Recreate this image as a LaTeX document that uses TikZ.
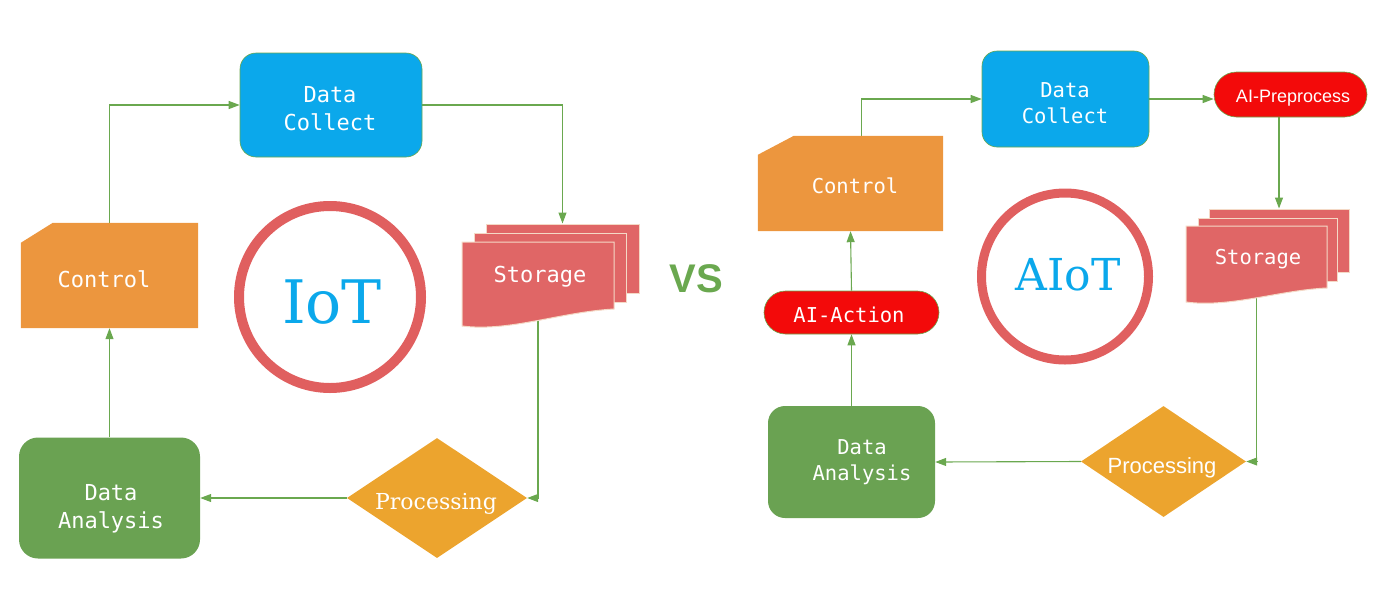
\documentclass[tikz,border=0pt]{standalone}
\usepackage{fontspec}
\setmonofont{DejaVu Sans Mono}
\newfontfamily\slabfont{DejaVu Serif}
\newfontfamily\lsans{Liberation Sans}
\usetikzlibrary{shapes.geometric,shapes.misc,arrows.meta,backgrounds}
\definecolor{cblue}{HTML}{0BA8EB}
\definecolor{cgreen}{HTML}{6AA84F}
\definecolor{cdgreen}{HTML}{6AA252}
\definecolor{corange}{HTML}{ECA42E}
\definecolor{cctl}{HTML}{EC963E}
\definecolor{cstore}{HTML}{E06666}
\definecolor{cring}{HTML}{E05F5F}
\definecolor{cred}{HTML}{F30A0A}
\definecolor{clight}{HTML}{F4D9C6}
\begin{document}
\begin{tikzpicture}[x=1pt,y=-1pt,
  conn/.style={draw=cgreen, line width=1.1pt, -{Triangle[length=11pt,width=8pt]}},
  txt/.style={anchor=base, inner sep=0pt, text=white},
  monoL/.style={txt, font=\ttfamily\fontsize{22}{28}\selectfont},
  monoR/.style={txt, font=\ttfamily\fontsize{20.5}{26}\selectfont},
  collectbox/.style={rectangle, rounded corners=16pt, fill=cblue, draw=cgreen, line width=0.6pt, inner sep=0pt},
  analysisbox/.style={rectangle, rounded corners=19pt, fill=cdgreen, inner sep=0pt},
  procbox/.style={diamond, fill=corange, inner sep=0pt},
  aibox/.style={rounded rectangle, fill=cred, draw=cgreen, line width=0.6pt, inner sep=0pt},
  sheet/.style={rectangle, fill=cstore, draw=clight, line width=1pt, inner sep=0pt},
  ringnode/.style={circle, draw=cring, inner sep=0pt},
  ghost/.style={rectangle, inner sep=0pt}
]
\useasboundingbox (0,0) rectangle (1400,606);

%% ---------------- IoT (left) ----------------
\node[collectbox, minimum width=182pt, minimum height=104pt] (dc1) at (331,105) {};
\node[monoL] (dc1a) at (330,102) {Data};
\node[monoL] (dc1b) at (330,130) {Collect};

\node[ghost, minimum width=177pt, minimum height=105pt] (ctl1) at (109.5,275.5) {};
\fill[cctl] (ctl1.south west) -- (ctl1.south east) -- (ctl1.north east)
  -- ([xshift=32pt]ctl1.north west) -- ([yshift=-20pt]ctl1.north west) -- cycle;
\node[monoL] (ctl1t) at (104,287) {Control};

\node[analysisbox, minimum width=181pt, minimum height=121pt] (da1) at (109.5,498) {};
\node[monoL] (da1a) at (111,500) {Data};
\node[monoL] (da1b) at (111,528) {Analysis};

\node[procbox, minimum width=180pt, minimum height=120pt] (pr1) at (437,498) {};
\node[txt, font=\slabfont\fontsize{22}{26}\selectfont] (pr1t) at (436,509) {Processing};

% storage (three sheets)
\node[sheet, minimum width=153pt, minimum height=69pt] (sb1) at (562.5,258.5) {};
\node[sheet, minimum width=152pt, minimum height=69pt] (sm1) at (550,267.5) {};
\node[ghost, minimum width=152pt, minimum height=79pt] (st1) at (538,281.5) {};
\filldraw[fill=cstore, draw=clight, line width=1pt]
  (462,242) -- (614,242) -- (614,309) .. controls (560,312) and (510,332) .. (462,326) -- cycle;
\node[monoL] (st1t) at (540,282) {Storage};

\node[ringnode, line width=10pt, minimum size=182pt] (ring1) at (330,297) {};
\node[txt, text=cblue, font=\slabfont\fontsize{60}{60}\selectfont] (ring1t) at (332,323) {IoT};

%% ---------------- VS ----------------
\node[txt, text=cgreen, font=\lsans\bfseries\fontsize{40}{40}\selectfont] (vs) at (696,292) {VS};

%% ---------------- AIoT (right) ----------------
\node[collectbox, rounded corners=15pt, minimum width=167pt, minimum height=96pt] (dc2) at (1065.5,99) {};
\node[monoR] (dc2a) at (1065,97) {Data};
\node[monoR] (dc2b) at (1065,123) {Collect};

\node[aibox, minimum width=153pt, minimum height=45pt] (pp2) at (1290.5,94.5) {};
\node[txt, font=\lsans\fontsize{18}{20}\selectfont] (pp2t) at (1293,102) {AI-Preprocess};

\node[ghost, minimum width=185pt, minimum height=95pt] (ctl2) at (850.5,183.5) {};
\fill[cctl] (ctl2.south west) -- (ctl2.south east) -- (ctl2.north east)
  -- ([xshift=36pt]ctl2.north west) -- ([yshift=-19pt]ctl2.north west) -- cycle;
\node[monoR] (ctl2t) at (855,193) {Control};

\node[aibox, minimum width=175pt, minimum height=43pt] (aa2) at (851.5,312.5) {};
\node[monoR] (aa2t) at (849,322) {AI-Action};

\node[analysisbox, rounded corners=17pt, minimum width=167pt, minimum height=112pt] (da2) at (851.5,462) {};
\node[monoR] (da2a) at (862,454) {Data};
\node[monoR] (da2b) at (862,480) {Analysis};

\node[procbox, minimum width=165pt, minimum height=111pt] (pr2) at (1163.5,461.5) {};
\node[txt, font=\lsans\fontsize{22}{26}\selectfont] (pr2t) at (1162,473) {Processing};

\node[sheet, minimum width=140pt, minimum height=63pt] (sb2) at (1279,240.5) {};
\node[sheet, minimum width=139pt, minimum height=63pt] (sm2) at (1267.5,249.5) {};
\node[ghost, minimum width=141pt, minimum height=72pt] (st2) at (1256.5,262) {};
\filldraw[fill=cstore, draw=clight, line width=1pt]
  (1186,226) -- (1327,226) -- (1327,288) .. controls (1280,290) and (1230,308) .. (1186,302) -- cycle;
\node[monoR] (st2t) at (1258,264) {Storage};

\node[ringnode, line width=9pt, minimum size=167pt] (ring2) at (1065,276.5) {};
\node[txt, text=cblue, font=\slabfont\fontsize{44}{44}\selectfont] (ring2t) at (1068,290) {AIoT};

%% ---------------- connectors ----------------
\begin{scope}[on background layer]
  \draw[conn] (ctl1.north) |- (dc1.west);
  \draw[conn] (dc1.east) -| (sb1.north);
  \draw[conn] (st1.south) |- (pr1.east);
  \draw[conn] (pr1.west) -- (da1.east);
  \draw[conn] (da1.north) -- (ctl1.south);

  \draw[conn] ([xshift=11pt]ctl2.north) |- (dc2.west);
  \draw[conn] (dc2.east) -- (dc2.east -| pp2.west);
  \draw[conn] (sb2.north |- pp2.south) -- (sb2.north);
  \draw[conn] (st2.south) |- (pr2.east);
  \draw[conn] (pr2.west) -- (da2.east);
  \draw[conn] (da2.north) -- (aa2.south);
  \draw[conn] (aa2.north) -- (ctl2.south);
\end{scope}
\end{tikzpicture}
\end{document}
